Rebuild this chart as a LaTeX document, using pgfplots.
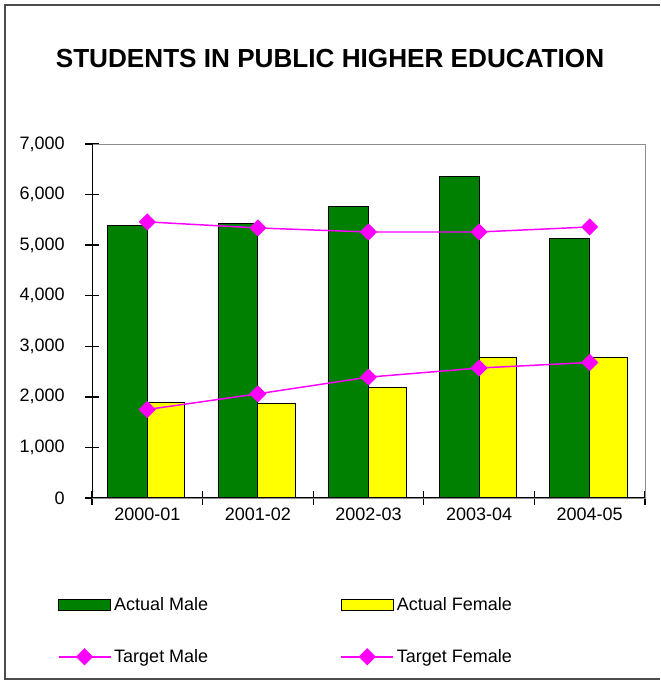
\documentclass[border=0pt]{standalone}
\usepackage{pgfplots}
\pgfplotsset{compat=1.18}
\usepackage{fontspec}
\setmainfont{Liberation Sans}
\definecolor{xlgreen}{RGB}{0,128,0}
\definecolor{xlyellow}{RGB}{255,255,0}
\definecolor{xlpink}{RGB}{255,0,255}
\pgfplotsset{
  barleg/.style={legend image code/.code={\draw[##1] (0pt,-4pt) rectangle (39pt,4pt);}},
  lineleg/.style={legend image code/.code={%
    \draw[##1, mark=none, line width=1.5pt] (0pt,0.4pt) -- (39pt,0.4pt);
    \path[##1] plot[only marks] coordinates {(19.5pt,0.4pt)};}},
}
\begin{document}
\begin{tikzpicture}
% page is 660 x 681 px, 1px = 0.75pt
\useasboundingbox (0pt,0pt) rectangle (495pt,510.75pt);
\draw[black!70, line width=1.4pt] (495pt,507pt) -- (3.75pt,507pt) -- (3.75pt,1.5pt) -- (495pt,1.5pt);
\node[font=\bfseries\fontsize{19.6}{21}\selectfont] at (247.5pt,466.5pt) {STUDENTS IN PUBLIC HIGHER EDUCATION};
\begin{axis}[
    at={(69pt,137.25pt)}, anchor=south west,
    scale only axis, width=414.75pt, height=265.5pt,
    xmin=-0.5, xmax=4.5, ymin=0, ymax=7000,
    axis line style={draw=black!45, line width=0.6pt},
    xtick={-0.5,0.5,...,4.5}, xticklabels={},
    extra x ticks={0,1,2,3,4},
    extra x tick labels={2000-01,2001-02,2002-03,2003-04,2004-05},
    extra x tick style={major tick length=0pt},
    ytick={0,1000,...,7000},
    xtick pos=bottom, ytick pos=left,
    tick align=center, major tick length=10pt,
    tick style={black, line width=1pt},
    ticklabel style={font=\fontsize{13.5}{15}\selectfont},
    /pgf/number format/assume math mode=true,
    /pgf/number format/1000 sep={,},
    yticklabel style={xshift=-12pt},
    xticklabel style={yshift=-4pt},
    legend columns=2,
    legend style={draw=none, fill=none, at={(-0.07,-0.265)}, anchor=north west,
        font=\fontsize{13.5}{15}\selectfont, row sep=24pt,
        /tikz/every even column/.append style={column sep=97pt}},
    legend cell align=left,
]
\addplot[fill=xlgreen, draw=black, line width=0.8pt, ybar, bar width=0.36, bar shift=-0.18, barleg]
    coordinates {(0,5390) (1,5430) (2,5760) (3,6350) (4,5130)};
\addlegendentry{Actual Male}
\addplot[fill=xlyellow, draw=black, line width=0.8pt, ybar, bar width=0.34, bar shift=0.17, barleg]
    coordinates {(0,1880) (1,1870) (2,2180) (3,2780) (4,2780)};
\addlegendentry{Actual Female}
\addplot[color=xlpink, line width=1.1pt, mark=square*, mark size=4pt, mark options={draw=xlpink, fill=xlpink, rotate=45}, lineleg]
    coordinates {(0,5460) (1,5340) (2,5260) (3,5260) (4,5360)};
\addlegendentry{Target Male}
\addplot[color=xlpink, line width=1.1pt, mark=square*, mark size=4pt, mark options={draw=xlpink, fill=xlpink, rotate=45}, lineleg]
    coordinates {(0,1750) (1,2060) (2,2390) (3,2570) (4,2680)};
\addlegendentry{Target Female}
\draw[black, line width=1.4pt] (rel axis cs:0,1) -- (rel axis cs:0,0) -- (rel axis cs:1,0);
\end{axis}
\end{tikzpicture}
\end{document}
